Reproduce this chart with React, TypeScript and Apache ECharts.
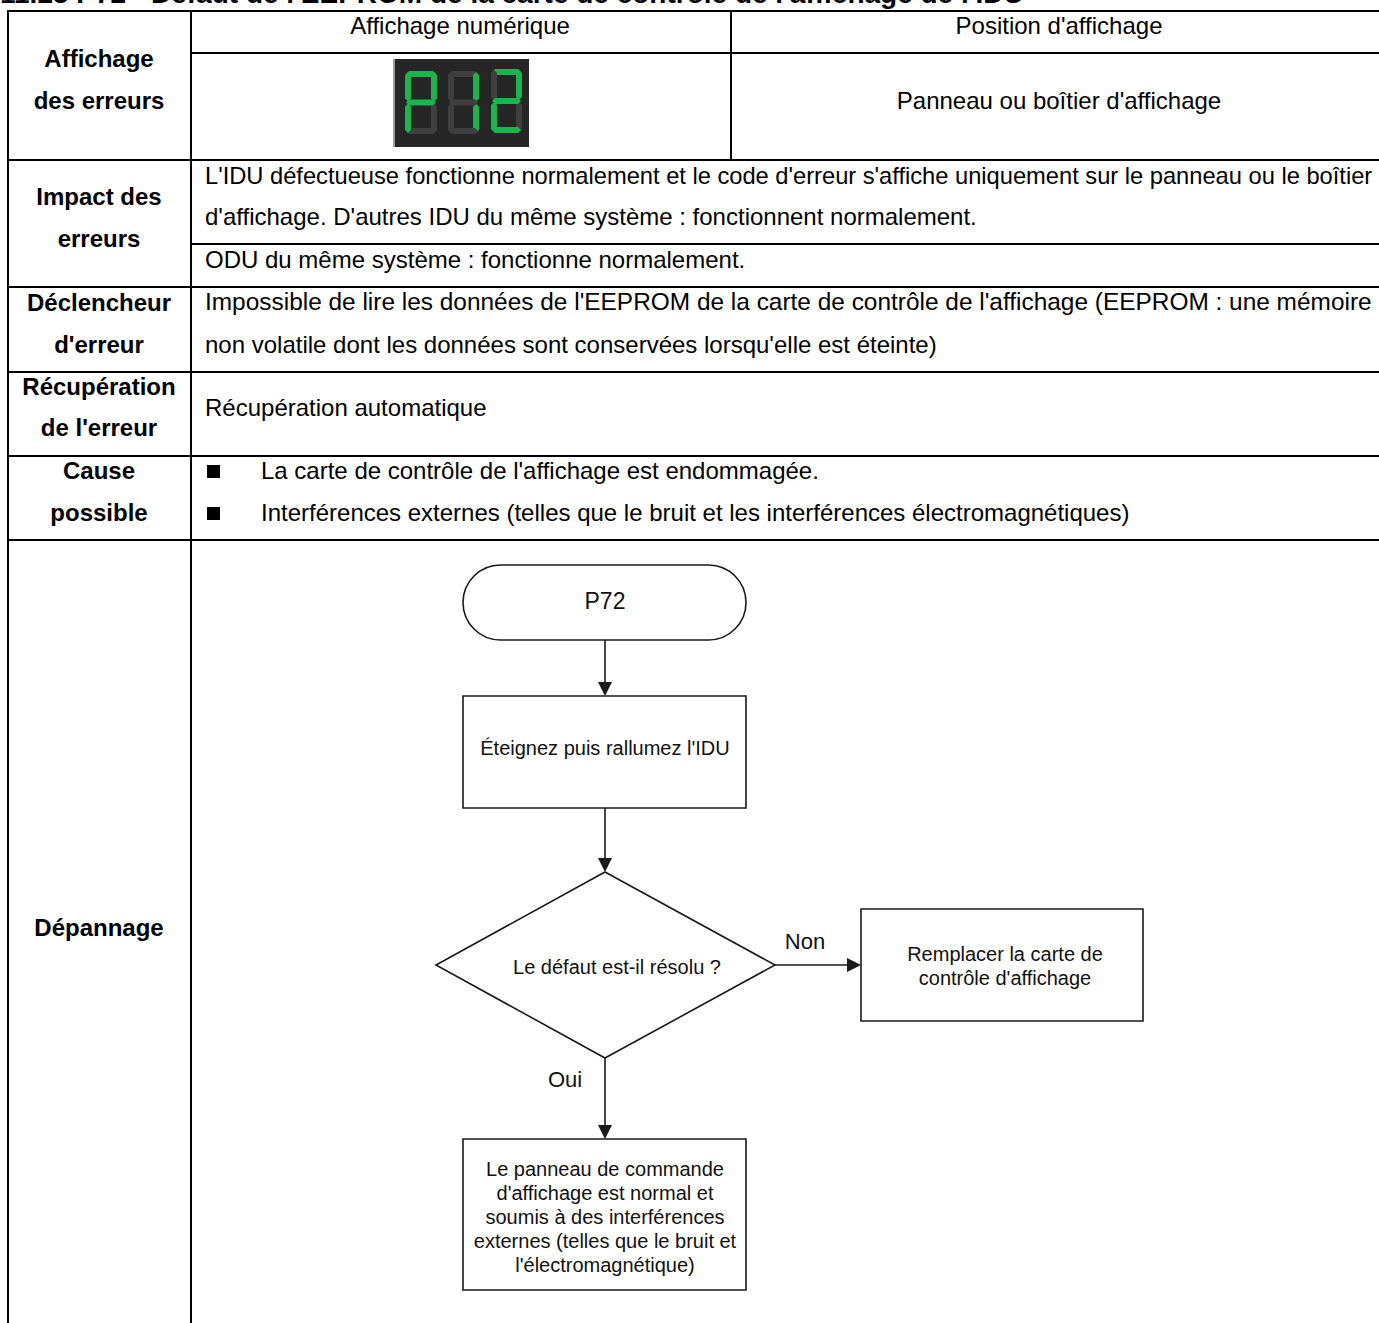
import React, { useEffect, useRef } from "react";
import * as echarts from "echarts";

// ---------- data ----------
const titleText = "11.25 P72 - Défaut de l'EEPROM de la carte de contrôle de l'affichage de l'IDU";
const rowLabels: string[][] = [
  ["Affichage", "des erreurs"],
  ["Impact des", "erreurs"],
  ["Déclencheur", "d'erreur"],
  ["Récupération", "de l'erreur"],
  ["Cause", "possible"],
  ["Dépannage"],
];
const headerCells = ["Affichage numérique", "Position d'affichage"];
const displayPosition = "Panneau ou boîtier d'affichage";
const impactLines = [
  "L'IDU défectueuse fonctionne normalement et le code d'erreur s'affiche uniquement sur le panneau ou le boîtier",
  "d'affichage. D'autres IDU du même système : fonctionnent normalement.",
];
const impactOdu = "ODU du même système : fonctionne normalement.";
const triggerLines = [
  "Impossible de lire les données de l'EEPROM de la carte de contrôle de l'affichage (EEPROM : une mémoire",
  "non volatile dont les données sont conservées lorsqu'elle est éteinte)",
];
const recoveryText = "Récupération automatique";
const causeLines = [
  "La carte de contrôle de l'affichage est endommagée.",
  "Interférences externes (telles que le bruit et les interférences électromagnétiques)",
];
const flowStart = "P72";
const flowStep = "Éteignez puis rallumez l'IDU";
const flowDecision = "Le défaut est-il résolu ?";
const flowNo = "Non";
const flowYes = "Oui";
const flowReplace = ["Remplacer la carte de", "contrôle d'affichage"];
const flowFinal = [
  "Le panneau de commande",
  "d'affichage est normal et",
  "soumis à des interférences",
  "externes (telles que le bruit et",
  "l'électromagnétique)",
];
// seven-segment states a,b,c,d,e,f,g for the three digits shown
const ledSegments: number[][] = [
  [1, 1, 0, 0, 1, 1, 1],
  [0, 1, 1, 0, 0, 0, 0],
  [1, 1, 0, 1, 1, 0, 1],
];

// ---------- layout ----------
const FONT = "'Liberation Sans', Arial, sans-serif";
const TL = 8; // table left
const TR = 1392; // table right (beyond view)
const C1 = 191;
const C2 = 731;
const LABEL_X = 99;
const TEXT_X = 205;
const BODY = 24;
const FLOW = 20;

function txt(text: string, x: number, y: number, size: number, opts: any = {}) {
  return {
    type: "text",
    x,
    y,
    scaleX: opts.scaleX || 1,
    silent: true,
    style: {
      text,
      x: 0,
      y: 0,
      fill: opts.fill || "#000",
      fontSize: size,
      fontFamily: FONT,
      fontWeight: opts.bold ? "bold" : "normal",
      align: opts.align || "left",
      verticalAlign: opts.vAlign || "middle",
    },
  };
}
function ln(x1: number, y1: number, x2: number, y2: number, w = 2, c = "#000") {
  return { type: "line", silent: true, shape: { x1, y1, x2, y2 }, style: { stroke: c, lineWidth: w } };
}

function hseg(x1: number, x2: number, yc: number, h: number) {
  return [
    [x1, yc], [x1 + h, yc - h], [x2 - h, yc - h], [x2, yc], [x2 - h, yc + h], [x1 + h, yc + h],
  ];
}
function vseg(xc: number, y1: number, y2: number, h: number) {
  return [
    [xc, y1], [xc + h, y1 + h], [xc + h, y2 - h], [xc, y2], [xc - h, y2 - h], [xc - h, y1 + h],
  ];
}

function buildGraphic() {
  const g: any[] = [];
  // background
  g.push({ type: "rect", shape: { x: 0, y: 0, width: 1379, height: 1323 }, style: { fill: "#fff" }, silent: true });

  // title (cut off at the top edge, as in the reference)
  g.push(txt(titleText, 0, -7, 28, { bold: true }));

  // table lines
  const hRowsFull = [11, 160, 287, 372, 456, 540];
  hRowsFull.forEach((y) => g.push(ln(TL - 1, y, TR, y)));
  g.push(ln(C1, 53, TR, 53));
  g.push(ln(C1, 244, TR, 244));
  g.push(ln(TL, 10, TL, 1330));
  g.push(ln(C1, 10, C1, 1330));
  g.push(ln(C2, 10, C2, 161));

  // labels
  const labelYs = [[58, 100], [196, 238], [302, 344], [386, 427], [470, 512], [927]];
  rowLabels.forEach((lines, i) =>
    lines.forEach((l, j) => g.push(txt(l, LABEL_X, labelYs[i][j], BODY, { bold: true, align: "center" })))
  );

  // header row
  g.push(txt(headerCells[0], 460, 25, BODY, { align: "center" }));
  g.push(txt(headerCells[1], 1059, 25, BODY, { align: "center" }));
  g.push(txt(displayPosition, 1059, 100, BODY, { align: "center" }));

  // LED display
  g.push({ type: "rect", silent: true, shape: { x: 393, y: 59, width: 136, height: 88 }, style: { fill: "#262626" } });
  g.push(ln(394, 59, 394, 147, 2, "#9a9a9a"));
  const digitBoxes = [
    { L: 405, R: 437, T: 71, B: 134 },
    { L: 448, R: 479, T: 71, B: 134 },
    { L: 491, R: 522, T: 69, B: 133 },
  ];
  const h = 3;
  digitBoxes.forEach((d, i) => {
    const M = (d.T + d.B) / 2;
    const segs = [
      hseg(d.L + 1, d.R - 1, d.T + h, h), // a
      vseg(d.R - h, d.T + 1, M - 1, h), // b
      vseg(d.R - h, M + 1, d.B - 1, h), // c
      hseg(d.L + 1, d.R - 1, d.B - h, h), // d
      vseg(d.L + h, M + 1, d.B - 1, h), // e
      vseg(d.L + h, d.T + 1, M - 1, h), // f
      hseg(d.L + 1, d.R - 1, M, h), // g
    ];
    segs.forEach((pts, k) =>
      g.push({
        type: "polygon",
        silent: true,
        shape: { points: pts },
        style: { fill: ledSegments[i][k] ? "#1cb44f" : "#3f3f3f" },
      })
    );
  });

  // impact (first line justified to the cell width)
  g.push(txt(impactLines[0], TEXT_X, 175, BODY, { scaleX: 0.987 }));
  g.push(txt(impactLines[1], TEXT_X, 216, BODY));
  g.push(txt(impactOdu, TEXT_X, 259, BODY));
  // trigger
  g.push(txt(triggerLines[0], TEXT_X, 302, BODY, { scaleX: 1.018 }));
  g.push(txt(triggerLines[1], TEXT_X, 344, BODY));
  // recovery
  g.push(txt(recoveryText, TEXT_X, 407, BODY));
  // causes
  [471, 513].forEach((y, i) => {
    g.push({ type: "rect", silent: true, shape: { x: 207, y: y - 6, width: 13, height: 13 }, style: { fill: "#000" } });
    g.push(txt(causeLines[i], 261, y - 1, BODY));
  });

  // flowchart
  const FS = { stroke: "#1a1a1a", lineWidth: 1.6, fill: "#fff" };
  const ARROW = "#1a1a1a";
  const arrowDown = (x: number, y1: number, y2: number) => {
    g.push(ln(x, y1, x, y2 - 12, 1.6, ARROW));
    g.push({ type: "polygon", silent: true, shape: { points: [[x - 7, y2 - 14], [x + 7, y2 - 14], [x, y2]] }, style: { fill: ARROW } });
  };
  g.push({ type: "rect", silent: true, shape: { x: 463, y: 565, width: 283, height: 75, r: 37.5 }, style: FS });
  g.push(txt(flowStart, 605, 601, 23, { align: "center", fill: "#111" }));
  arrowDown(605, 640, 696);
  g.push({ type: "rect", silent: true, shape: { x: 463, y: 696, width: 283, height: 112 }, style: FS });
  g.push(txt(flowStep, 605, 748, FLOW, { align: "center", fill: "#111" }));
  arrowDown(605, 808, 872);
  g.push({
    type: "polygon",
    silent: true,
    shape: { points: [[605, 872], [775, 965], [605, 1058], [436, 965]] },
    style: FS,
  });
  g.push(txt(flowDecision, 617, 967, FLOW, { align: "center", fill: "#111" }));
  // Non arrow
  g.push(ln(775, 965, 849, 965, 1.6, ARROW));
  g.push({ type: "polygon", silent: true, shape: { points: [[847, 958], [847, 972], [861, 965]] }, style: { fill: ARROW } });
  g.push(txt(flowNo, 805, 941, 22, { align: "center", fill: "#111" }));
  g.push({ type: "rect", silent: true, shape: { x: 861, y: 909, width: 282, height: 112 }, style: FS });
  flowReplace.forEach((l, i) => g.push(txt(l, 1005, 954 + i * 24, FLOW, { align: "center", fill: "#111" })));
  // Oui arrow
  arrowDown(605, 1058, 1139);
  g.push(txt(flowYes, 565, 1079, 22, { align: "center", fill: "#111" }));
  g.push({ type: "rect", silent: true, shape: { x: 463, y: 1139, width: 283, height: 151 }, style: FS });
  flowFinal.forEach((l, i) => g.push(txt(l, 605, 1169 + i * 24, FLOW, { align: "center", fill: "#111" })));

  return g;
}

export default function App() {
  const ref = useRef<HTMLDivElement>(null);
  useEffect(() => {
    if (!ref.current) return;
    const chart = echarts.init(ref.current, undefined, { renderer: "svg" });
    chart.setOption({
      animation: false,
      backgroundColor: "#fff",
      graphic: { elements: buildGraphic() },
    });
    return () => chart.dispose();
  }, []);
  return (
    <div
      ref={ref}
      style={{ position: "fixed", left: 0, top: 0, width: 1379, height: 1323, background: "#fff" }}
    />
  );
}
